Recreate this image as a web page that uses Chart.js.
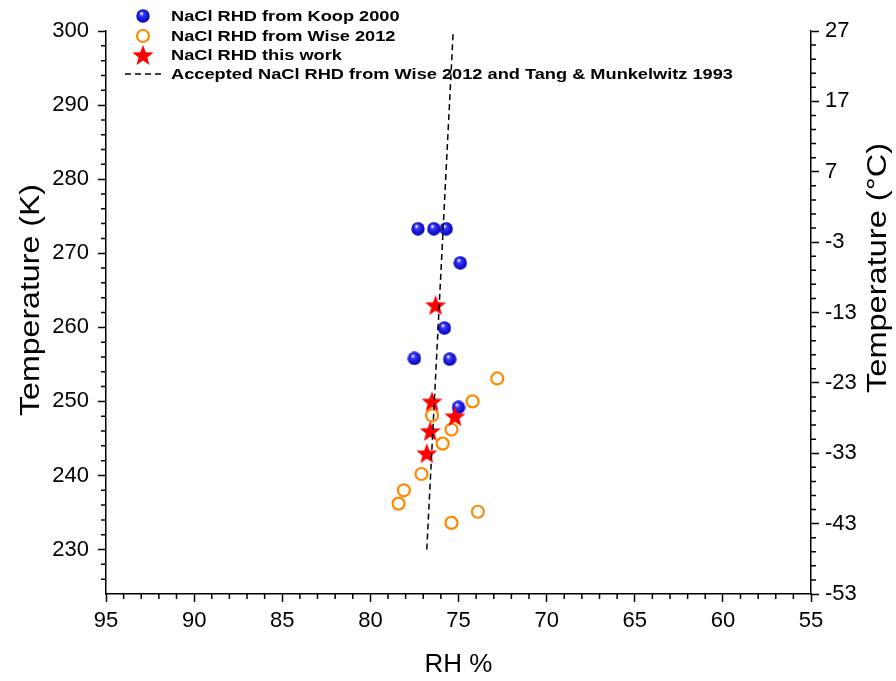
<!DOCTYPE html>
<html>
<head>
<meta charset="utf-8">
<script src="https://cdn.jsdelivr.net/npm/chart.js@4.4.1/dist/chart.umd.min.js"></script>
<style>
html, body { margin: 0; padding: 0; background: #fff; }
</style>
</head>
<body>
<canvas id="rhd" width="896" height="681"></canvas>
<script>
// values
var koopRH = [77.3, 76.4, 75.7, 74.9, 75.8, 77.5, 75.5, 75.0];
var koopT  = [273.3, 273.3, 273.3, 268.7, 259.9, 255.8, 255.7, 249.2];

var wiseRH = [72.8, 74.2, 76.5, 75.4, 75.9, 77.1, 78.1, 78.4, 73.9, 75.4];
var wiseT  = [253.1, 250.0, 248.1, 246.2, 244.3, 240.2, 238.0, 236.2, 235.1, 233.6];

var workRH = [76.3, 76.5, 75.2, 76.6, 76.8];
var workT  = [263.0, 250.0, 248.0, 246.0, 243.0];

var acceptedRH = [76.8, 75.3];
var acceptedT  = [230, 300];

var rhTicks = [95, 90, 85, 80, 75, 70, 65, 60, 55];
var kTicks  = [230, 240, 250, 260, 270, 280, 290, 300];
var cTicks  = [-53, -43, -33, -23, -13, -3, 7, 17, 27];

var FONT = "Arial, 'Liberation Sans', sans-serif";

function pts(xs, ys) {
  return xs.map(function (x, i) { return { x: x, y: ys[i] }; });
}

// shaded blue ball
function sphere(r) {
  var c = document.createElement('canvas');
  c.width = c.height = 2 * r;
  var g = c.getContext('2d');
  var gr = g.createRadialGradient(r * 0.75, r * 0.6, 0.3, r, r, r);
  gr.addColorStop(0, '#ffffff');
  gr.addColorStop(0.3, '#3434ff');
  gr.addColorStop(1, '#0000b0');
  g.fillStyle = gr;
  g.beginPath();
  g.arc(r, r, r - 0.3, 0, 2 * Math.PI);
  g.fill();
  return c;
}

// filled five point star
function star(r) {
  var c = document.createElement('canvas');
  c.width = c.height = 2 * r;
  var g = c.getContext('2d');
  g.fillStyle = '#ff0000';
  g.beginPath();
  for (var i = 0; i < 10; i++) {
    var rad = i % 2 ? r * 0.42 : r;
    var a = -Math.PI / 2 + i * Math.PI / 5;
    var px = r + rad * Math.cos(a), py = r + 1 + rad * Math.sin(a);
    if (i == 0) g.moveTo(px, py); else g.lineTo(px, py);
  }
  g.closePath();
  g.fill();
  return c;
}

var ball = sphere(7);
var redStar = star(11);

function setTicks(list) {
  return function (scale) {
    scale.ticks = list.map(function (v) { return { value: v }; });
  };
}

// text stretched along its own direction to a given length
function wideText(ctx, txt, x, y, len, rot) {
  ctx.save();
  ctx.translate(x, y);
  if (rot) ctx.rotate(rot);
  ctx.scale(len / ctx.measureText(txt).width, 1);
  ctx.fillText(txt, 0, 0);
  ctx.restore();
}

var axisGrid = { drawOnChartArea: false, color: '#000', tickLength: 8, tickWidth: 1.5 };
var axisBorder = { color: '#000', width: 1.5 };
var tickFont = { family: FONT, size: 22 };

var extras = {
  id: 'extras',
  afterDraw: function (chart) {
    var ctx = chart.ctx, a = chart.chartArea;
    var sx = chart.scales.x, sy = chart.scales.y, sy2 = chart.scales.y2;
    ctx.save();
    ctx.strokeStyle = '#000';
    ctx.lineWidth = 1.5;
    ctx.beginPath();
    var v, p;
    for (v = 94; v > 55; v--) {
      if (v % 5 == 0) continue;
      p = sx.getPixelForValue(v);
      ctx.moveTo(p, a.bottom); ctx.lineTo(p, a.bottom + 5);
    }
    for (v = 226; v < 300; v += 2) {
      if (v % 10 == 0) continue;
      p = sy.getPixelForValue(v);
      ctx.moveTo(a.left, p); ctx.lineTo(a.left - 5, p);
    }
    for (v = -51; v < 27; v += 2) {
      if ((v + 53) % 10 == 0) continue;
      p = sy2.getPixelForValue(v);
      ctx.moveTo(a.right, p); ctx.lineTo(a.right + 5, p);
    }
    ctx.stroke();

    // axis titles for both temperature axes, reading upward
    ctx.fillStyle = '#000';
    ctx.font = '27px ' + FONT;
    ctx.textAlign = 'center';
    ctx.textBaseline = 'middle';
    wideText(ctx, 'Temperature (K)', 32, 300, 232, -Math.PI / 2);
    wideText(ctx, 'Temperature (\u00B0C)', 879, 268, 250, -Math.PI / 2);

    // legend
    var ds = chart.data.datasets;
    var rows = [16, 36, 55, 74];
    ctx.font = 'bold 15px ' + FONT;
    ctx.textAlign = 'left';
    var k = 562 / ctx.measureText(ds[3].label).width;
    for (var i = 0; i < ds.length; i++) {
      var y = rows[i];
      if (ds[i].legendKind == 'img') {
        var im = ds[i].pointStyle;
        ctx.drawImage(im, 143 - im.width / 2, y - im.height / 2);
      } else if (ds[i].legendKind == 'ring') {
        ctx.beginPath();
        ctx.lineWidth = 2.2;
        ctx.strokeStyle = ds[i].borderColor;
        ctx.arc(143, y, 6, 0, 2 * Math.PI);
        ctx.stroke();
      } else {
        ctx.beginPath();
        ctx.lineWidth = 1.5;
        ctx.strokeStyle = '#000';
        ctx.setLineDash([6, 4]);
        ctx.moveTo(125, y); ctx.lineTo(161, y);
        ctx.stroke();
        ctx.setLineDash([]);
      }
      ctx.fillStyle = '#000';
      wideText(ctx, ds[i].label, 171, y + 1, ctx.measureText(ds[i].label).width * k, 0);
    }
    ctx.restore();
  }
};

new Chart(document.getElementById('rhd'), {
  type: 'scatter',
  data: {
    datasets: [
      {
        label: 'NaCl RHD from Koop 2000',
        legendKind: 'img',
        data: pts(koopRH, koopT),
        pointStyle: ball,
        order: 3
      }, {
        label: 'NaCl RHD from Wise 2012',
        legendKind: 'ring',
        data: pts(wiseRH, wiseT),
        pointStyle: 'circle',
        pointRadius: 6,
        borderWidth: 2.2,
        borderColor: '#ff8a00',
        backgroundColor: 'rgba(255,255,255,0)',
        order: 2
      }, {
        label: 'NaCl RHD this work',
        legendKind: 'img',
        data: pts(workRH, workT),
        pointStyle: redStar,
        order: 1
      }, {
        type: 'line',
        label: 'Accepted NaCl RHD from Wise 2012 and Tang & Munkelwitz 1993',
        legendKind: 'dash',
        data: pts(acceptedRH, acceptedT),
        borderColor: '#000',
        borderWidth: 1.5,
        borderDash: [6, 4],
        pointRadius: 0,
        fill: false,
        order: 0
      }
    ]
  },
  options: {
    responsive: false,
    animation: false,
    devicePixelRatio: 1,
    layout: { padding: { top: 31, right: 0, bottom: 0, left: 0 } },
    plugins: { legend: { display: false }, tooltip: { enabled: false } },
    scales: {
      x: {
        type: 'linear',
        reverse: true,
        min: 55, max: 95,
        afterBuildTicks: setTicks(rhTicks),
        afterFit: function (s) { s.height = 87; },
        grid: axisGrid,
        border: axisBorder,
        ticks: { color: '#000', font: tickFont, padding: 6, maxRotation: 0 },
        title: { display: true, text: 'RH %', color: '#000', font: { family: FONT, size: 26 }, padding: { top: 0, bottom: 1 } }
      },
      y: {
        type: 'linear',
        position: 'left',
        min: 224, max: 300,
        afterBuildTicks: setTicks(kTicks),
        afterFit: function (s) { s.width = 106; },
        grid: axisGrid,
        border: axisBorder,
        ticks: { color: '#000', font: tickFont, padding: 9 }
      },
      y2: {
        type: 'linear',
        position: 'right',
        min: -53, max: 27,
        afterBuildTicks: setTicks(cTicks),
        afterFit: function (s) { s.width = 85; },
        grid: axisGrid,
        border: axisBorder,
        ticks: { color: '#000', font: tickFont, padding: 6 }
      }
    }
  },
  plugins: [extras]
});
</script>
</body>
</html>
